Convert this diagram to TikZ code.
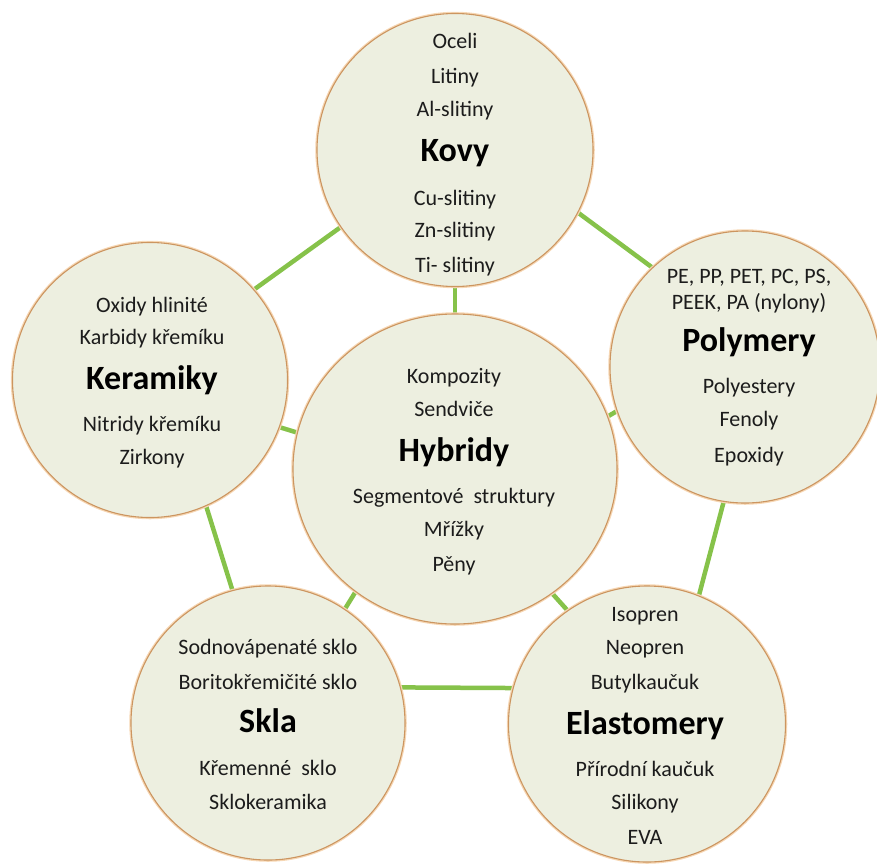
\documentclass[tikz,border=0pt]{standalone}
\usepackage{fontspec}
\setmainfont{Carlito}
\usetikzlibrary{shapes.geometric,backgrounds}
\definecolor{fillc}{HTML}{EDEFE0}
\definecolor{bordc}{HTML}{CC9560}
\definecolor{haloc}{HTML}{F6D7B4}
\definecolor{linkc}{HTML}{86C24A}
\definecolor{textc}{HTML}{1C1C1C}
\begin{document}
\begin{tikzpicture}[x=1pt,y=-1pt,
  circ/.style={ellipse, draw=bordc, line width=1.1pt, fill=fillc, inner sep=0pt,
    preaction={draw=haloc, line width=3.5pt}},
  item/.style={font=\fontsize{22}{26}\selectfont, text=textc, anchor=mid, inner sep=0pt, yshift=-4pt},
  ttl/.style={font=\fontsize{34}{40}\selectfont\bfseries, text=black, anchor=mid, inner sep=0pt, yshift=-5pt},
  link/.style={draw=linkc, line width=4.5pt}]
\useasboundingbox (0,0) rectangle (877,863);

% circles
\node[circ, minimum width=276pt, minimum height=273pt] (kovy) at (455,150) {};
\node[circ, minimum width=270pt, minimum height=272pt] (poly) at (745,367) {};
\node[circ, minimum width=275pt, minimum height=275pt] (ker) at (150,380) {};
\node[circ, minimum width=324pt, minimum height=310pt] (hyb) at (455,469) {};
\node[circ, minimum width=274pt, minimum height=274pt] (skla) at (268,723) {};
\node[circ, minimum width=277pt, minimum height=276pt] (ela) at (647,724) {};

% connectors
\begin{scope}[on background layer]
\draw[link] (kovy.-90) -- (hyb.90);
\draw[link] (kovy.-146) -- (ker.41);
\draw[link] (kovy.-27) -- (poly.133);
\draw[link] (poly.199) -- (hyb.19);
\draw[link] (poly.-99) -- (ela.68);
\draw[link] (ker.-20) -- (hyb.167);
\draw[link] (ker.-66) -- (skla.105);
\draw[link] (skla.56) -- (hyb.-129);
\draw[link] (skla.15) -- (ela.165.5);
\draw[link] (ela.125) -- (hyb.-52);
\end{scope}

% Kovy
\node[item] (kv1) at (455,42) {Oceli};
\node[item] (kv2) at (455,77) {Litiny};
\node[item] (kv3) at (455,110) {Al-slitiny};
\node[ttl]  (kv4) at (455,154) {Kovy};
\node[item] (kv5) at (455,199) {Cu-slitiny};
\node[item] (kv6) at (455,231) {Zn-slitiny};
\node[item] (kv7) at (455,266) {Ti- slitiny};

% Polymery
\node[item] (po1) at (749,277) {PE, PP, PET, PC, PS,};
\node[item] (po2) at (749,303) {PEEK, PA (nylony)};
\node[ttl]  (po3) at (749,344) {Polymery};
\node[item] (po4) at (749,387) {Polyestery};
\node[item] (po5) at (749,420) {Fenoly};
\node[item] (po6) at (749,456) {Epoxidy};

% Keramiky
\node[item] (ke1) at (152,306) {Oxidy hlinité};
\node[item] (ke2) at (152,338) {Karbidy křemíku};
\node[ttl]  (ke3) at (152,382) {Keramiky};
\node[item] (ke4) at (152,425) {Nitridy křemíku};
\node[item] (ke5) at (152,458) {Zirkony};

% Hybridy
\node[item] (hy1) at (454,377) {Kompozity};
\node[item] (hy2) at (454,410) {Sendviče};
\node[ttl]  (hy3) at (454,454) {Hybridy};
\node[item] (hy4) at (454,497) {Segmentové~~struktury};
\node[item] (hy5) at (454,530) {Mřížky};
\node[item] (hy6) at (454,565) {Pěny};

% Skla
\node[item] (sk1) at (268,648) {Sodnovápenaté sklo};
\node[item] (sk2) at (268,683) {Boritokřemičité sklo};
\node[ttl]  (sk3) at (268,725) {Skla};
\node[item] (sk4) at (268,769) {Křemenné~~sklo};
\node[item] (sk5) at (268,803) {Sklokeramika};

% Elastomery
\node[item] (el1) at (645,615) {Isopren};
\node[item] (el2) at (645,648) {Neopren};
\node[item] (el3) at (645,683) {Butylkaučuk};
\node[ttl]  (el4) at (645,727) {Elastomery};
\node[item] (el5) at (645,770) {Přírodní kaučuk};
\node[item] (el6) at (645,803) {Silikony};
\node[item] (el7) at (645,838) {EVA};
\end{tikzpicture}
\end{document}
